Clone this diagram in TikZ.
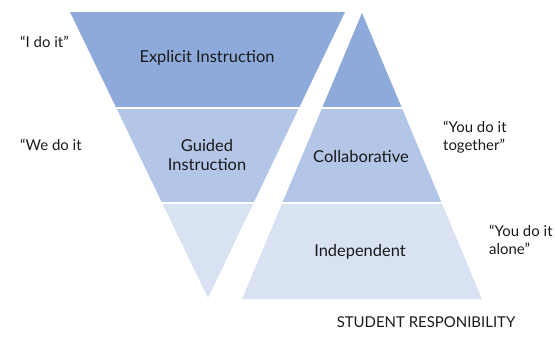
\documentclass[tikz,border=0pt]{standalone}
\usepackage{fontspec}
\setmainfont{Lato}
\definecolor{bandtop}{HTML}{8EAADB}
\definecolor{bandmid}{HTML}{B4C6E7}
\definecolor{bandlow}{HTML}{D9E2F3}
\tikzset{
  saying/.style={font=\fontsize{15}{18}\selectfont, text=black!90, inner sep=0pt},
  band name/.style={saying, font=\fontsize{16.5}{19}\selectfont, align=center},
  gap line/.style={white, line width=1.2bp},
}
\begin{document}
\begin{tikzpicture}[x=1bp,y=-1bp]
\useasboundingbox (0,0) rectangle (555,336);
% teacher side, upside down
\begin{scope}
\clip (70,12) -- (345,12) -- (208,298) -- cycle;
\fill[bandtop] (0,0) rectangle (555,108);
\fill[bandmid] (0,108) rectangle (555,203);
\fill[bandlow] (0,203) rectangle (555,336);
\draw[gap line] (0,108) -- (555,108);
\draw[gap line] (0,203) -- (555,203);
\end{scope}
% student side
\begin{scope}
\clip (362,13) -- (482,299) -- (242,299) -- cycle;
\fill[bandtop] (0,0) rectangle (555,108);
\fill[bandmid] (0,108) rectangle (555,203);
\fill[bandlow] (0,203) rectangle (555,336);
\draw[gap line] (0,108) -- (555,108);
\draw[gap line] (0,203) -- (555,203);
\end{scope}
\node[band name] (explicit) at (207,58) {Explicit Instruction};
\node[band name] (guided) at (207,155) {Guided\\Instruction};
\node[band name] (collab) at (361,157) {Collaborative};
\node[band name] (indep) at (360,252) {Independent};
\node[saying, anchor=west] (ido) at (20,42) {“I do it”};
\node[saying, anchor=west] (wedo) at (20,145) {“We do it};
\node[saying, anchor=west, align=left] (together) at (443,137) {“You do it\\together”};
\node[saying, anchor=west, align=left] (alone) at (489,240) {“You do it\\alone”};
\node[saying] (student) at (426,322) {STUDENT RESPONIBILITY};
\end{tikzpicture}
\end{document}
